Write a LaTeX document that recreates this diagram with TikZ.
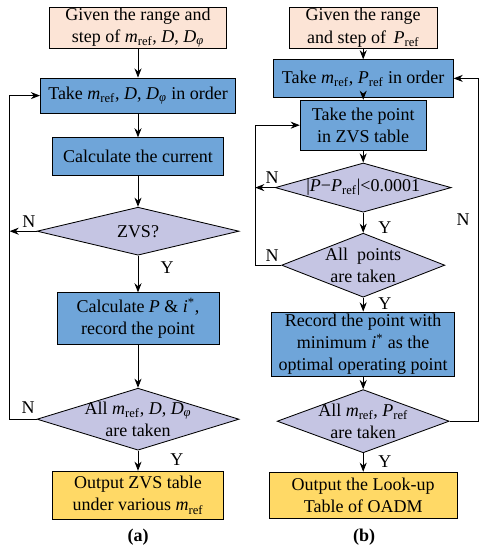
\documentclass[tikz,border=0pt]{standalone}
\usepackage{fontspec}
\setmainfont{Liberation Serif}
\usepackage{tikz}
\usetikzlibrary{arrows.meta, positioning, shapes.geometric}
\definecolor{cpeach}{HTML}{FCE4D6}
\definecolor{cblue}{HTML}{6FA5D9}
\definecolor{clav}{HTML}{C5C5E3}
\definecolor{cyellow}{HTML}{FFD966}
\newcommand\mref{\textit{m}\textsubscript{ref}}
\newcommand\Pref{\textit{P}\textsubscript{ref}}
\newcommand\Dphi{\textit{D}\textsubscript{\textit{φ}}}
\newcommand\flowfont{\fontsize{12.8}{15.8}\selectfont}
\tikzset{
  initbox/.style={draw=black, fill=cpeach, line width=0.6pt, align=center,
                  inner sep=0pt, font=\flowfont},
  procbox/.style={draw=black, fill=cblue, line width=0.6pt, align=center,
                  inner sep=0pt, font=\flowfont},
  outbox/.style={draw=black, fill=cyellow, line width=0.6pt, align=center,
                 inner sep=0pt, font=\flowfont},
  decbox/.style={diamond, draw=black, fill=clav, line width=0.6pt, inner sep=0pt},
  dectext/.style={align=center, inner sep=0pt, font=\flowfont},
  yn/.style={font=\flowfont, inner sep=0pt},
  arr/.style={-{Stealth[length=6.5pt,width=5pt]}, line width=0.6pt},
}
\begin{document}
\begin{tikzpicture}
  \useasboundingbox (0,0) rectangle (12.125,-13.75);

  %% (a) ZVS table
  \node[initbox, minimum width=4.43cm, minimum height=1.03cm] (g1) at (3.45,-0.69)
    {Given the range and\\step of \mref, \textit{D}, \Dphi};
  \node[procbox, minimum width=4.88cm, minimum height=0.88cm] (t1) at (3.45,-2.39)
    {Take \mref, \textit{D}, \Dphi{} in order};
  \node[procbox, minimum width=4.28cm, minimum height=0.93cm] (c1) at (3.45,-3.91)
    {Calculate the current};
  \node[decbox, minimum width=5.05cm, minimum height=1.2cm] (zvs) at (3.45,-5.78) {};
  \node[dectext] (zvst) at (zvs.center) {ZVS?};
  \node[procbox, minimum width=4.05cm, minimum height=1.28cm] (p1) at (3.45,-7.96)
    {Calculate \textit{P} \& \textit{i}\textsuperscript{*},\\record the point};
  \node[decbox, minimum width=5.05cm, minimum height=1.55cm] (a1) at (3.45,-10.48) {};
  \node[dectext] (a1t) at (a1.center) {All \mref, \textit{D}, \Dphi\\are taken};
  \node[outbox, minimum width=4.28cm, minimum height=1.2cm] (o1) at (3.45,-12.38)
    {Output ZVS table\\under various \mref};
  \node[yn] (capa) at (3.45,-13.43) {\textbf{(a)}};

  \coordinate (la) at (0.24,0);
  \draw[arr] (g1) -- (t1);
  \draw[arr] (t1) -- (c1);
  \draw[arr] (c1) -- (zvs);
  \draw[arr] (zvs) -- (p1);
  \draw[arr] (p1) -- (a1);
  \draw[arr] (a1) -- (o1);
  \draw[arr] (zvs.west) -- (zvs.west -| la);
  \draw[arr] (a1.west) -- (a1.west -| la) |- (t1.west);
  \node[yn] (n1) at (0.72,-5.55) {N};
  \node[yn] (y1) at (4.18,-6.68) {Y};
  \node[yn] (n2) at (0.70,-10.2) {N};
  \node[yn] (y2) at (4.42,-11.5) {Y};

  %% (b) look-up table
  \node[initbox, minimum width=3.7cm, minimum height=1.03cm] (g2) at (9.08,-0.69)
    {Given the range\\and step of \,\Pref};
  \node[procbox, minimum width=4.5cm, minimum height=0.93cm] (t2) at (9.08,-1.96)
    {Take \mref, \Pref{} in order};
  \node[procbox, minimum width=3.15cm, minimum height=1.25cm] (z2) at (9.08,-3.13)
    {Take the point\\in ZVS table};
  \node[decbox, minimum width=4.4cm, minimum height=1.23cm] (d2) at (9.08,-4.69) {};
  \node[dectext] (d2t) at (d2.center) {|\textit{P}−\Pref|<0.0001};
  \node[decbox, minimum width=4.08cm, minimum height=1.6cm] (d3) at (9.08,-6.63) {};
  \node[dectext] (d3t) at (d3.center) {All \ points\\are taken};
  \node[procbox, minimum width=4.58cm, minimum height=1.6cm] (r2) at (9.08,-8.6)
    {Record the point with\\minimum \textit{i}\textsuperscript{*} as the\\optimal operating point};
  \node[decbox, minimum width=4.3cm, minimum height=1.58cm] (d4) at (9.08,-10.53) {};
  \node[dectext] (d4t) at (d4.center) {All \mref, \Pref\\are taken};
  \node[outbox, minimum width=4.7cm, minimum height=1.15cm] (o2) at (9.08,-12.38)
    {Output the Look-up\\Table of OADM};
  \node[yn] (capb) at (9.1,-13.43) {\textbf{(b)}};

  \coordinate (lb) at (6.38,0);
  \coordinate (rb) at (11.95,0);
  \draw[arr] (g2) -- (t2);
  \draw[arr] (t2) -- (z2);
  \draw[arr] (z2) -- (d2);
  \draw[arr] (d2) -- (d3);
  \draw[arr] (d3) -- (r2);
  \draw[arr] (r2) -- (d4);
  \draw[arr] (d4) -- (o2);
  \draw[arr] (d2.west) -- (d2.west -| lb);
  \draw[arr] (d3.west) -- (d3.west -| lb) |- (z2.west);
  \draw[arr] (d4.east) -- (d4.east -| rb) |- (t2.east);
  \node[yn] (n3) at (6.8,-4.45) {N};
  \node[yn] (y3) at (9.62,-5.68) {Y};
  \node[yn] (n4) at (6.8,-6.38) {N};
  \node[yn] (y4) at (9.62,-7.58) {Y};
  \node[yn] (n5) at (11.58,-5.48) {N};
  \node[yn] (y5) at (9.62,-11.55) {Y};
\end{tikzpicture}
\end{document}
